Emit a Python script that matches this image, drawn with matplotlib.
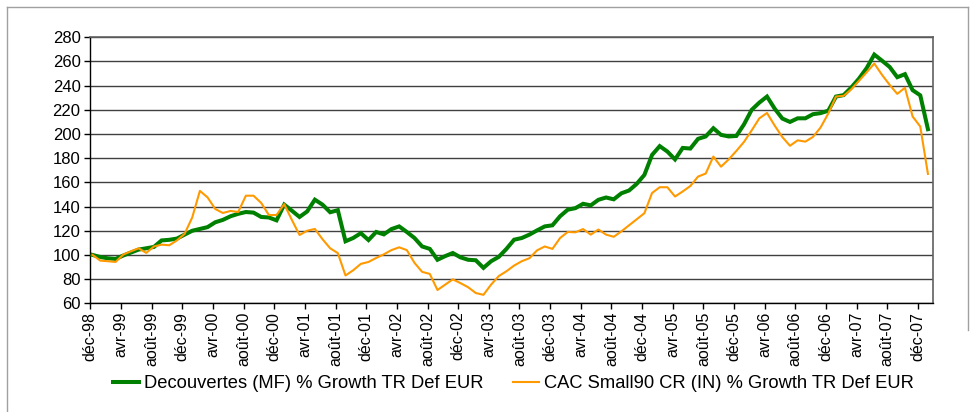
import matplotlib
matplotlib.use("Agg")
import matplotlib.pyplot as plt
from matplotlib.lines import Line2D
import numpy as np

plt.rcParams['font.family'] = ['Liberation Sans', 'DejaVu Sans']

# Monthly data, déc-98 .. janv-08
decouvertes = [
    100, 98.3, 97.2, 96.7, 99.5, 102, 104.4, 105.5, 106.6, 112,
    112.5, 113.5, 116.8, 120, 121.5, 123, 127, 129, 132, 134,
    135.5, 135, 131.4, 131, 128.6, 141.6, 136.6, 131.4, 136, 145.7,
    141.6, 135.3, 137, 111.3, 114, 118, 112.3, 119, 117, 121.4,
    123.6, 119, 114, 107, 105, 96, 99, 101.6, 98, 96,
    95.6, 89.3, 94.8, 98.4, 105, 112.6, 114, 116.8, 120.3, 123.6,
    124.5, 132, 137.4, 138.7, 142.3, 141, 145.6, 147.5, 146, 151,
    153.3, 158.8, 166.2, 182.7, 190, 185.5, 179, 188.5, 188, 196,
    198, 204.8, 199.3, 198, 198.4, 208, 220, 226, 231, 221,
    212.8, 210, 213, 213, 216.4, 217.3, 219.3, 231, 232.2, 238.5,
    245.8, 254.5, 265.7, 260.7, 255.5, 247, 249.5, 236.3, 232, 204,
]
cac_small90 = [
    100, 95.3, 94.8, 94.2, 100.3, 103, 105.5, 101.7, 107, 108.5,
    108, 112, 117.4, 131, 153, 147.6, 138, 134.7, 136.4, 135.5,
    149, 149, 143, 133, 133, 142, 129, 116.5, 120, 121.5,
    113, 105.5, 101.5, 83, 87.3, 92.6, 94.2, 97.5, 100.5, 104,
    106.3, 104, 93.5, 86, 84.3, 71, 75.4, 79.8, 76.7, 73.3,
    68.5, 67, 75.5, 82.5, 86.5, 91.2, 94.8, 97.3, 103.8, 107,
    105, 114, 119, 118.7, 121.4, 116.8, 121, 116.8, 115, 119.5,
    124.5, 129.5, 134.5, 151.2, 156, 156, 148.3, 152.5, 157, 164.8,
    167.3, 181.4, 173, 179, 186, 193.5, 203, 213, 217.4, 207,
    197.5, 190.3, 194.8, 193.7, 197.6, 205.5, 217, 231, 231.6, 237,
    244, 251, 258.3, 249, 240.7, 233.2, 238.3, 214.5, 206.2, 167,
]
tick_labels = [
    "déc-98", "avr-99", "août-99", "déc-99", "avr-00", "août-00", "déc-00",
    "avr-01", "août-01", "déc-01", "avr-02", "août-02", "déc-02", "avr-03",
    "août-03", "déc-03", "avr-04", "août-04", "déc-04", "avr-05", "août-05",
    "déc-05", "avr-06", "août-06", "déc-06", "avr-07", "août-07", "déc-07",
]
series_names = ["Decouvertes (MF) % Growth TR Def EUR",
                "CAC Small90 CR (IN) % Growth TR Def EUR"]

W, H = 976, 412
fig = plt.figure(figsize=(W / 100, H / 100), dpi=100)
fig.patch.set_facecolor('white')

# outer chart-area border
fig.add_artist(Line2D([7 / W, 968 / W], [1 - 7 / H, 1 - 7 / H], color='#a0a0a0', lw=1))
fig.add_artist(Line2D([7 / W, 7 / W], [1 - 7 / H, 0], color='#a0a0a0', lw=1))
fig.add_artist(Line2D([968 / W, 968 / W], [1 - 7 / H, 1 - 330 / H], color='#a0a0a0', lw=1))

left, right, top, bottom = 90.3, 933.3, 37.3, 303.3
ax = fig.add_axes([left / W, 1 - bottom / H, (right - left) / W, (bottom - top) / H])

x = np.arange(len(decouvertes)) + 0.3
ax.plot(x, decouvertes, color='#008000', lw=2.9, solid_joinstyle='miter', zorder=3)
ax.plot(x, cac_small90, color='#FF9900', lw=1.5, zorder=4)

ax.set_xlim(0, 110)
ax.set_ylim(60, 280)
ax.set_yticks(np.arange(60, 281, 20))
ax.set_xticks(np.arange(0, 4 * len(tick_labels), 4))
ax.set_xticklabels(tick_labels, rotation=90, fontsize=11.5)
ax.tick_params(axis='y', labelsize=12, length=4, width=1, pad=3, direction='out')
ax.tick_params(axis='x', length=4, width=1, pad=2, direction='out')
ax.grid(axis='y', color='#404040', lw=1)
ax.set_axisbelow(True)
for s in ['top', 'right']:
    ax.spines[s].set_color('#606060')
    ax.spines[s].set_linewidth(1.2)
for s in ['left', 'bottom']:
    ax.spines[s].set_color('black')
    ax.spines[s].set_linewidth(1)

handles = [Line2D([], [], color='#008000', lw=2.9), Line2D([], [], color='#FF9900', lw=1.5)]
fig.legend(handles, series_names, loc='center', bbox_to_anchor=(0.526, 1 - 384 / H),
           ncol=2, frameon=False, fontsize=13.2, handlelength=1.45, handletextpad=0.25,
           columnspacing=1.6)

fig.savefig('out.png', dpi=100, facecolor='white')
